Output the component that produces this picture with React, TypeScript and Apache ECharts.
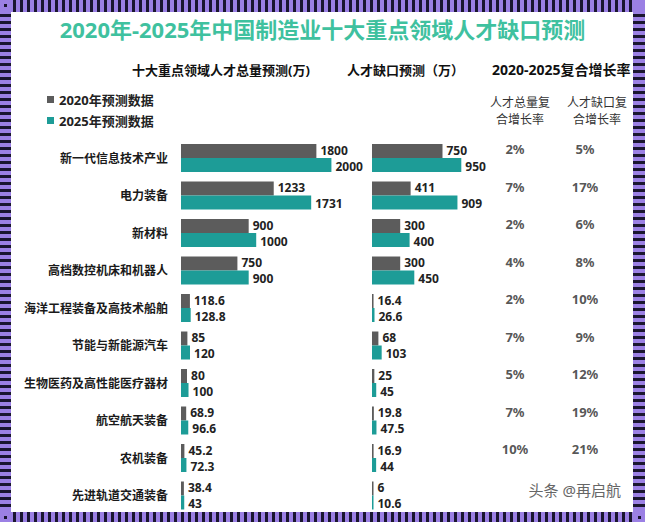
import React, { useEffect, useRef } from "react";
import * as echarts from "echarts";

const categories = [
  "新一代信息技术产业",
  "电力装备",
  "新材料",
  "高档数控机床和机器人",
  "海洋工程装备及高技术船舶",
  "节能与新能源汽车",
  "生物医药及高性能医疗器材",
  "航空航天装备",
  "农机装备",
  "先进轨道交通装备",
];
const total2020 = [1800, 1233, 900, 750, 118.6, 85, 80, 68.9, 45.2, 38.4];
const total2025 = [2000, 1731, 1000, 900, 128.8, 120, 100, 96.6, 72.3, 43];
const gap2020 = [750, 411, 300, 300, 16.4, 68, 25, 19.8, 16.9, 6];
const gap2025 = [950, 909, 400, 450, 26.6, 103, 45, 47.5, 44, 10.6];
const totalRate = ["2%", "7%", "2%", "4%", "2%", "7%", "5%", "7%", "10%", ""];
const gapRate = ["5%", "17%", "6%", "8%", "10%", "9%", "12%", "19%", "21%", ""];
const seriesNames = ["2020年预测数据", "2025年预测数据"];

const FONT = "'Noto Sans', 'Noto Sans CJK SC', sans-serif";
const GRAY = "#5c5c5c";
const TEAL = "#1d9c97";
const PURPLE = "#9b80e4";
const DARK = "#1a1630";

function frameElements(W: number, H: number) {
  const els: any[] = [];
  els.push({ type: "rect", shape: { x: 0, y: 0, width: W, height: H }, style: { fill: PURPLE }, silent: true });
  const period = 7;
  for (let x = 13; x < W - 12; x += period) {
    els.push({ type: "rect", shape: { x, y: 0, width: 3, height: 12 }, style: { fill: DARK }, silent: true });
    els.push({ type: "rect", shape: { x, y: H - 10, width: 3, height: 10 }, style: { fill: DARK }, silent: true });
  }
  for (let y = 14; y < H - 12; y += period) {
    els.push({ type: "rect", shape: { x: 0, y, width: 11, height: 3 }, style: { fill: DARK }, silent: true });
    els.push({ type: "rect", shape: { x: W - 12, y, width: 12, height: 3 }, style: { fill: DARK }, silent: true });
  }
  els.push({ type: "rect", shape: { x: 4, y: 4, width: 3, height: 3 }, style: { fill: DARK }, silent: true });
  els.push({ type: "rect", shape: { x: 4, y: H - 6, width: 3, height: 3 }, style: { fill: DARK }, silent: true });
  els.push({ type: "rect", shape: { x: W - 7, y: H - 6, width: 3, height: 3 }, style: { fill: DARK }, silent: true });
  els.push({ type: "rect", shape: { x: 11, y: 12, width: W - 23, height: H - 22 }, style: { fill: "#ffffff" }, silent: true });
  return els;
}

function subHeader(text: string, x: number, y: number) {
  return {
    type: "text",
    x,
    y,
    style: { text, fontSize: 12, lineHeight: 12, fill: "#333", fontFamily: FONT, align: "center", verticalAlign: "middle" },
  };
}

export default function App() {
  const ref = useRef<HTMLDivElement>(null);
  useEffect(() => {
    if (!ref.current) return;
    const chart = echarts.init(ref.current, null, { renderer: "svg" });
    const W = 645;
    const H = 522;
    const gridTop = 139.25;
    const gridH = 375;
    const barLabel = (dy: number) => ({
      show: true,
      position: "right" as const,
      distance: 4,
      offset: [0, dy],
      fontSize: 12,
      lineHeight: 12,
      fontWeight: "bold" as any,
      color: "#222",
      fontFamily: FONT,
    });
    const rateLabel = (arr: string[]) => ({
      show: true,
      position: "inside" as const,
      offset: [0, -9],
      fontSize: 13,
      fontWeight: "bold" as any,
      color: "#2a2a2a",
      fontFamily: FONT,
      formatter: (p: any) => arr[p.dataIndex],
    });
    const option: any = {
      animation: false,
      backgroundColor: "#ffffff",
      title: {
        text: "2020年-2025年中国制造业十大重点领域人才缺口预测",
        left: "center",
        top: 13,
        textStyle: { fontSize: 22, fontWeight: "bold", color: "#3fc19f", fontFamily: FONT },
      },
      legend: {
        data: seriesNames,
        orient: "vertical",
        left: 42,
        top: 88,
        itemWidth: 7,
        itemHeight: 7,
        itemGap: 8,
        icon: "rect",
        textStyle: { fontSize: 13, fontWeight: "bold", color: "#222", fontFamily: FONT },
        selectedMode: false,
      },
      graphic: [
        ...frameElements(W, H),
        {
          type: "rect",
          shape: { x: 550, y: 135, width: 68, height: 342, r: 8 },
          style: { fill: "#fde6da" },
          silent: true,
          z: -1,
        },
        {
          type: "text",
          x: 132,
          y: 70,
          style: { text: "十大重点领域人才总量预测(万)", fontSize: 13, fontWeight: "bold", fill: "#111", fontFamily: FONT, verticalAlign: "middle" },
        },
        {
          type: "text",
          x: 347,
          y: 70,
          style: { text: "人才缺口预测（万）", fontSize: 13, fontWeight: "bold", fill: "#111", fontFamily: FONT, verticalAlign: "middle" },
        },
        {
          type: "text",
          x: 492,
          y: 69,
          style: { text: "2020-2025复合增长率", fontSize: 14, fontWeight: "bold", fill: "#111", fontFamily: FONT, verticalAlign: "middle" },
        },
        subHeader("人才总量复", 520, 102),
        subHeader("合增长率", 520, 119),
        subHeader("人才缺口复", 597, 102),
        subHeader("合增长率", 597, 119),
        {
          type: "text",
          x: 621,
          y: 490,
          style: { text: "头条 @再启航", fontSize: 15, fill: "#666", fontFamily: FONT, align: "right", verticalAlign: "middle" },
        },
      ],
      grid: [
        { left: 181, top: gridTop, width: 180.5, height: gridH },
        { left: 372, top: gridTop, width: 94, height: gridH },
        { left: 480, top: gridTop, width: 140, height: gridH },
      ],
      xAxis: [
        { gridIndex: 0, type: "value", min: 0, max: 2400, show: false },
        { gridIndex: 1, type: "value", min: 0, max: 1000, show: false },
        { gridIndex: 2, type: "value", min: 0, max: 1, show: false },
      ],
      yAxis: [0, 1, 2].map((g) => ({
        gridIndex: g,
        type: "category",
        data: categories,
        inverse: true,
        axisLine: { show: false },
        axisTick: { show: false },
        splitLine: { show: false },
        axisLabel: {
          show: g === 0,
          fontSize: 12,
          fontWeight: "bold",
          color: "#1a1a1a",
          margin: 13,
          fontFamily: FONT,
        },
      })),
      series: [
        { type: "bar", name: seriesNames[0], xAxisIndex: 0, yAxisIndex: 0, data: total2020, barWidth: 14, barGap: "0%", barMinHeight: 1.5, itemStyle: { color: GRAY }, label: barLabel(-1) },
        { type: "bar", name: seriesNames[1], xAxisIndex: 0, yAxisIndex: 0, data: total2025, barWidth: 14, barGap: "0%", barMinHeight: 1.5, itemStyle: { color: TEAL }, label: barLabel(1) },
        { type: "bar", name: seriesNames[0], xAxisIndex: 1, yAxisIndex: 1, data: gap2020, barWidth: 14, barGap: "0%", barMinHeight: 1.5, itemStyle: { color: GRAY }, label: barLabel(-1) },
        { type: "bar", name: seriesNames[1], xAxisIndex: 1, yAxisIndex: 1, data: gap2025, barWidth: 14, barGap: "0%", barMinHeight: 1.5, itemStyle: { color: TEAL }, label: barLabel(1) },
        {
          type: "scatter",
          name: "totalRate",
          xAxisIndex: 2,
          yAxisIndex: 2,
          symbolSize: 1,
          itemStyle: { color: "rgba(0,0,0,0)" },
          data: totalRate.map((_, i) => [0.25, i]),
          label: rateLabel(totalRate),
        },
        {
          type: "scatter",
          name: "gapRate",
          xAxisIndex: 2,
          yAxisIndex: 2,
          symbolSize: 1,
          itemStyle: { color: "rgba(0,0,0,0)" },
          data: gapRate.map((_, i) => [0.75, i]),
          label: rateLabel(gapRate),
        },
      ],
    };
    chart.setOption(option);
    return () => chart.dispose();
  }, []);
  return (
    <div
      ref={ref}
      style={{ position: "fixed", left: 0, top: 0, width: 645, height: 522 }}
    />
  );
}
